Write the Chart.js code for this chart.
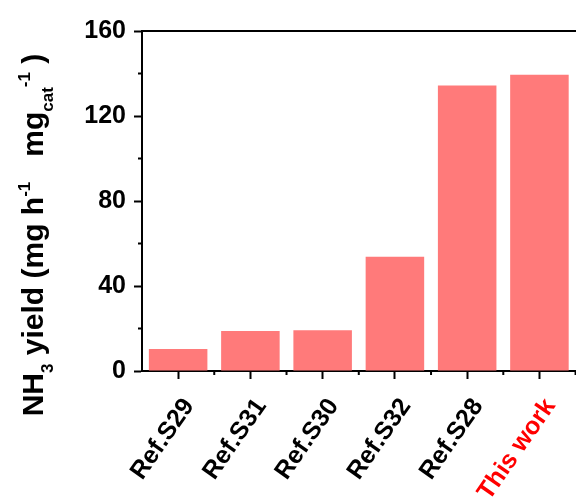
<!DOCTYPE html>
<html>
<head>
<meta charset="utf-8">
<script src="https://cdn.jsdelivr.net/npm/chart.js@4.4.1/dist/chart.umd.min.js"></script>
<style>
html,body{margin:0;padding:0;background:#fff;overflow:hidden;}
#wrap{width:576px;height:501px;overflow:hidden;position:relative;}
canvas{position:absolute;left:0;top:0;}
</style>
</head>
<body>
<div id="wrap"><canvas id="c" width="578" height="501"></canvas></div>
<script>
const categories = ['Ref.S29', 'Ref.S31', 'Ref.S30', 'Ref.S32', 'Ref.S28', 'This work'];
const yieldValues = [10.3, 18.8, 19.2, 53.8, 134.4, 139.4];
const yTicks = [0, 40, 80, 120, 160];
const yMinorTicks = [20, 60, 100, 140];
const labelColors = ['#000000', '#000000', '#000000', '#000000', '#000000', '#ff0000'];

const FONT = '"Liberation Sans", Arial, Helvetica, sans-serif';

const framePlugin = {
  id: 'frame',
  afterDraw(chart) {
    const ctx = chart.ctx;
    const area = chart.chartArea;
    const xs = chart.scales.x, ys = chart.scales.y;
    ctx.save();
    ctx.strokeStyle = '#000';
    ctx.lineWidth = 2;
    ctx.beginPath();
    ctx.moveTo(area.left, area.top);
    ctx.lineTo(chart.width, area.top);
    ctx.stroke();
    yMinorTicks.forEach(v => {
      const py = ys.getPixelForValue(v);
      ctx.beginPath();
      ctx.moveTo(area.left - 4, py);
      ctx.lineTo(area.left, py);
      ctx.stroke();
    });
    for (let i = 0; i < categories.length; i++) {
      const p0 = xs.getPixelForValue(i);
      const half = (i < categories.length - 1) ? (xs.getPixelForValue(i + 1) - p0) / 2 : (p0 - xs.getPixelForValue(i - 1)) / 2;
      const bx = p0 + half;
      ctx.beginPath();
      ctx.moveTo(bx, area.bottom);
      ctx.lineTo(bx, area.bottom + 4);
      ctx.stroke();
    }
    ctx.restore();

    const size = 30;
    const small = 17;
    const segs = [
      {t: 'NH', f: size, dy: 0},
      {t: '3', f: small, dy: 10},
      {t: ' yield (mg h', f: size, dy: 0},
      {t: '-1', f: small, dy: -13},
      {t: '   mg', f: size, dy: 0},
      {t: 'cat', f: small, dy: 10},
      {t: '-1', f: small, dy: -13},
      {t: ' )', f: size, dy: 0}
    ];
    ctx.save();
    let total = 0;
    const widths = segs.map(s => {
      ctx.font = 'bold ' + s.f + 'px ' + FONT;
      return ctx.measureText(s.t).width;
    });
    widths.forEach(w => total += w);
    const cy = 235;
    const baseX = 43;
    ctx.translate(baseX, cy);
    ctx.rotate(-Math.PI / 2);
    ctx.fillStyle = '#000';
    ctx.textBaseline = 'alphabetic';
    ctx.textAlign = 'left';
    let x = -total / 2;
    segs.forEach((s, i) => {
      ctx.font = 'bold ' + s.f + 'px ' + FONT;
      ctx.fillText(s.t, x, s.dy);
      x += widths[i];
    });
    ctx.restore();
  }
};

new Chart(document.getElementById('c'), {
  type: 'bar',
  data: {
    labels: categories,
    datasets: [{
      data: yieldValues,
      backgroundColor: 'rgb(255,122,122)',
      borderWidth: 0,
      barPercentage: 0.81,
      categoryPercentage: 1.0
    }]
  },
  options: {
    responsive: false,
    animation: false,
    devicePixelRatio: 1,
    layout: {padding: {left: 0, top: 31, right: 0, bottom: 0}},
    plugins: {legend: {display: false}, tooltip: {enabled: false}},
    scales: {
      x: {
        type: 'category',
        offset: true,
        afterFit(scale) { scale.height = 130; },
        grid: {
          display: true,
          offset: false,
          drawOnChartArea: false,
          tickLength: 8,
          tickWidth: 2,
          tickColor: '#000'
        },
        border: {display: true, color: '#000', width: 2},
        ticks: {
          minRotation: 55,
          maxRotation: 55,
          padding: 14,
          labelOffset: 11,
          autoSkip: false,
          color: (c) => labelColors[c.index] || '#000',
          font: {family: FONT, size: 25, weight: 'bold'}
        }
      },
      y: {
        min: 0,
        max: 160,
        afterFit(scale) { scale.width = 142; },
        afterBuildTicks(scale) { scale.ticks = yTicks.map(v => ({value: v})); },
        grid: {
          display: true,
          drawOnChartArea: false,
          tickLength: 8,
          tickWidth: 2,
          tickColor: '#000'
        },
        border: {display: true, color: '#000', width: 2},
        ticks: {
          padding: 8,
          color: '#000',
          font: {family: FONT, size: 25, weight: 'bold'}
        }
      }
    }
  },
  plugins: [framePlugin]
});
</script>
</body>
</html>
